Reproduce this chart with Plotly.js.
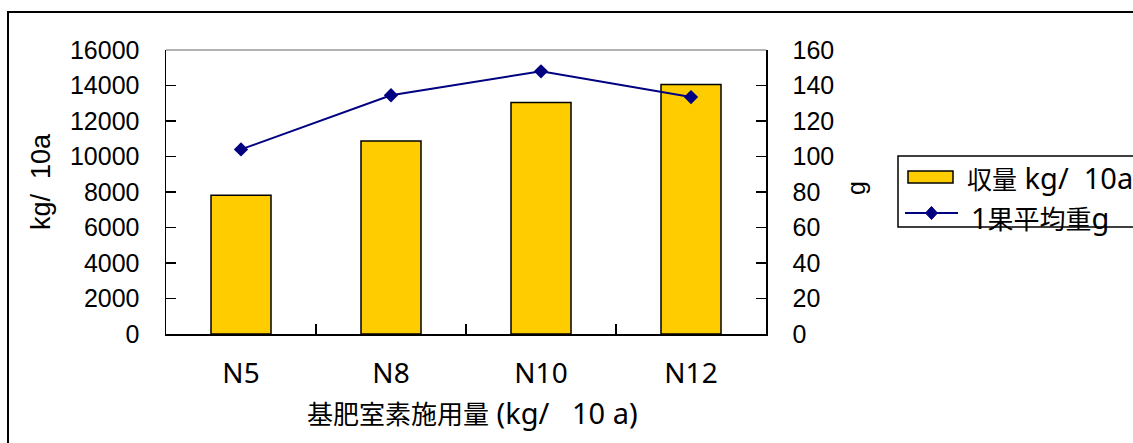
<!DOCTYPE html>
<html>
<head>
<meta charset="utf-8">
<script src="https://cdn.plot.ly/plotly-3.0.1.min.js"></script>
<style>
  html, body { margin: 0; padding: 0; background: #fff; }
  #chart { width: 1133px; height: 443px; }
</style>
</head>
<body>
<div id="chart"></div>
<script>
// Nitrogen base-fertiliser trial: yield (bars, left axis) and mean fruit weight (line, right axis)
var categories = ['N5', 'N8', 'N10', 'N12'];
var yieldKg = [7820, 10880, 13040, 14050];      // 収量 kg/10a
var fruitWeight = [104, 134.5, 148, 133.5];     // 1果平均重 g
var leftTickVals = [0, 2000, 4000, 6000, 8000, 10000, 12000, 14000, 16000];
var rightTickVals = [0, 20, 40, 60, 80, 100, 120, 140, 160];

var seriesNames = ['収量 kg/\u00a0\u00a010a', '1果平均重g'];
var xTitle = '基肥室素施用量 (kg/\u00a0\u00a0\u00a010\u00a0a)';
var leftTitle = 'kg/\u00a0\u00a010a';
var rightTitle = 'g';

var numFont = 'Liberation Sans, Arial, sans-serif';
var jpFont = 'Noto Sans CJK JP, Noto Sans, sans-serif';
var latinFont = 'Noto Sans, Noto Sans CJK JP, sans-serif';
var navy = '#000080';
var gold = '#FFCC00';

// plot area is 600 x 284 px; helpers turn pixel offsets into paper units
var PW = 600, PH = 284, L = 166, T = 50;
function px(x) { return (x - L) / PW; }
function py(y) { return (T + PH - y) / PH; }

// CJK part and Latin part of a label set in their own faces
function mixed(text, cjkSize, latinSize) {
  var i = text.search(/[ -~\u00a0]/);
  var lead = text.slice(0, i), rest = text.slice(i);
  // leading digit stays with the Latin face
  if (/^[0-9]/.test(text)) {
    var j = text.search(/[^0-9]/);
    return '<span style="font-family:' + latinFont + ';font-size:' + latinSize + 'px">' + text.slice(0, j) + '</span>' +
      '<span style="font-size:' + cjkSize + 'px">' + text.slice(j, -1) + '</span>' +
      '<span style="font-family:' + latinFont + ';font-size:' + latinSize + 'px">' + text.slice(-1) + '</span>';
  }
  return '<span style="font-size:' + cjkSize + 'px">' + lead + '</span>' +
    '<span style="font-family:' + latinFont + ';font-size:' + latinSize + 'px">' + rest + '</span>';
}

var traces = [
  {
    type: 'bar',
    x: categories,
    y: yieldKg,
    name: seriesNames[0],
    marker: { color: gold, line: { color: '#000', width: 1.5 } },
    showlegend: false,
    hoverinfo: 'x+y'
  },
  {
    type: 'scatter',
    mode: 'lines+markers',
    x: categories,
    y: fruitWeight,
    yaxis: 'y2',
    name: seriesNames[1],
    line: { color: navy, width: 2 },
    marker: { symbol: 'diamond', size: 11, color: navy },
    showlegend: false,
    hoverinfo: 'x+y'
  }
];

var layout = {
  width: 1133,
  height: 443,
  margin: { l: L, r: 1133 - L - PW, t: T, b: 443 - T - PH, pad: 0 },
  paper_bgcolor: '#fff',
  plot_bgcolor: '#fff',
  bargap: 0.6,
  showlegend: false,
  xaxis: {
    type: 'category',
    tickson: 'boundaries',
    ticks: 'inside',
    ticklen: 10,
    tickwidth: 1.5,
    tickcolor: '#000',
    showline: true,
    linecolor: '#000',
    linewidth: 1.5,
    showgrid: false,
    zeroline: false,
    ticklabelstandoff: 14,
    tickfont: { family: latinFont, size: 28, color: '#000' }
  },
  yaxis: {
    range: [0, 16000],
    tickvals: leftTickVals,
    ticktext: leftTickVals.map(String),
    ticks: 'inside',
    ticklen: 10,
    tickwidth: 1.5,
    tickcolor: '#000',
    showline: true,
    linecolor: '#000',
    linewidth: 1.5,
    showgrid: false,
    zeroline: false,
    ticklabelstandoff: 20,
    tickfont: { family: numFont, size: 25, color: '#000' }
  },
  yaxis2: {
    overlaying: 'y',
    side: 'right',
    range: [0, 160],
    tickvals: rightTickVals,
    ticktext: rightTickVals.map(String),
    ticks: 'inside',
    ticklen: 10,
    tickwidth: 1.5,
    tickcolor: '#000',
    showline: true,
    linecolor: '#000',
    linewidth: 1.5,
    showgrid: false,
    zeroline: false,
    ticklabelstandoff: 20,
    tickfont: { family: numFont, size: 25, color: '#000' }
  },
  shapes: [
    // outer chart frame (runs past the right and bottom edges)
    { type: 'rect', xref: 'paper', yref: 'paper', x0: px(8), x1: px(1160), y0: py(470), y1: py(12),
      line: { color: '#000', width: 2 }, fillcolor: 'rgba(0,0,0,0)', layer: 'below' },
    // thin grey top edge of the plot area
    { type: 'line', xref: 'paper', yref: 'paper', x0: 0, x1: 1, y0: 1, y1: 1,
      line: { color: '#999', width: 1.5 } },
    // legend frame
    { type: 'rect', xref: 'paper', yref: 'paper', x0: px(898), x1: px(1160), y0: py(227), y1: py(156),
      line: { color: '#000', width: 1.5 }, fillcolor: '#fff' },
    // legend swatch for the bars
    { type: 'rect', xref: 'paper', yref: 'paper', x0: px(908), x1: px(953), y0: py(183), y1: py(171),
      line: { color: '#000', width: 1.5 }, fillcolor: gold },
    // legend swatch for the line
    { type: 'line', xref: 'paper', yref: 'paper', x0: px(905), x1: px(958), y0: py(213), y1: py(213),
      line: { color: navy, width: 2 } },
    { type: 'path', xref: 'paper', yref: 'paper', xsizemode: 'pixel', ysizemode: 'pixel',
      xanchor: px(931.5), yanchor: py(213), path: 'M0,6.5 L6,0 L0,-6.5 L-6,0 Z',
      line: { color: navy, width: 1 }, fillcolor: navy }
  ],
  annotations: [
    { text: mixed(xTitle, 26, 29), xref: 'paper', yref: 'paper', x: px(472), y: py(412), xanchor: 'center', yanchor: 'middle',
      showarrow: false, font: { family: jpFont, size: 26, color: '#000' } },
    { text: leftTitle, xref: 'paper', yref: 'paper', x: px(41), y: py(182), xanchor: 'center', yanchor: 'middle',
      textangle: -90, showarrow: false, font: { family: numFont, size: 27, color: '#000' } },
    { text: rightTitle, xref: 'paper', yref: 'paper', x: px(856), y: py(188), xanchor: 'center', yanchor: 'middle',
      textangle: -90, showarrow: false, font: { family: numFont, size: 25, color: '#000' } },
    { text: mixed(seriesNames[0], 25, 29), xref: 'paper', yref: 'paper', x: px(965), y: py(177), xanchor: 'left', yanchor: 'middle',
      showarrow: false, font: { family: jpFont, size: 25, color: '#000' } },
    { text: mixed(seriesNames[1], 26, 29), xref: 'paper', yref: 'paper', x: px(969), y: py(217), xanchor: 'left', yanchor: 'middle',
      showarrow: false, font: { family: jpFont, size: 26, color: '#000' } }
  ]
};

Plotly.newPlot('chart', traces, layout, { staticPlot: true, displayModeBar: false });
</script>
</body>
</html>
